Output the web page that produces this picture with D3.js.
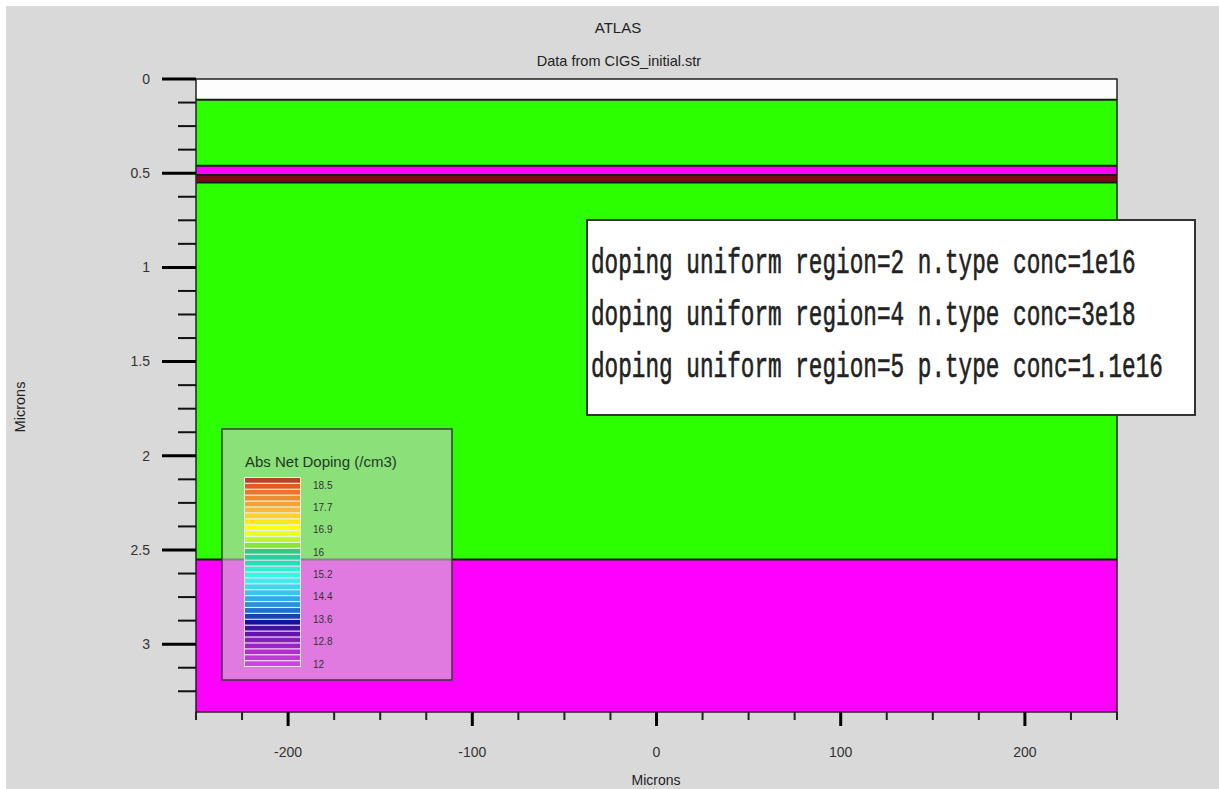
<!DOCTYPE html>
<html>
<head>
<meta charset="utf-8">
<script src="https://cdn.jsdelivr.net/npm/d3@7"></script>
<style>
  body { margin: 0; background: #ffffff; }
  text { font-family: "Liberation Sans", Arial, sans-serif; }
</style>
</head>
<body>
<div id="chart"></div>
<script>
// device layers, depth in microns (top / bottom of each region)
var layerTops    = [0, 0.11, 0.46, 0.51, 0.55, 2.55];
var layerBottoms = [0.11, 0.46, 0.51, 0.55, 2.55, 3.36];
var layerColors  = ["#fdfdfd", "#2cff00", "#ff00ff", "#7a0a18", "#2cff00", "#ff00ff"];

// axes
var xMajor = [-200, -100, 0, 100, 200];
var yMajor = [0, 0.5, 1, 1.5, 2, 2.5, 3];

// legend (log10 of abs net doping)
var legendLabels = [18.5, 17.7, 16.9, 16, 15.2, 14.4, 13.6, 12.8, 12];
var legendColors = ["#b8402a", "#e25a22", "#ee7428", "#f08c30", "#f4a238", "#f8b840",
                    "#fcd030", "#ffe818", "#ffff10", "#e8ff28", "#c0f430", "#88e438",
                    "#30c888", "#28d0a0", "#28dcb8", "#30ecd0", "#38f4e0", "#40ecf0",
                    "#40d8f0", "#38c4ec", "#30ace4", "#2892d8", "#2072c8", "#1446b0",
                    "#10149c", "#3c10a0", "#6414ac", "#8420b8", "#9c24c4", "#b030cc",
                    "#c038d8", "#cc44e4"];

// the pasted deck lines
var dopingLines = ["doping uniform region=2 n.type conc=1e16",
                   "doping uniform region=4 n.type conc=3e18",
                   "doping uniform region=5 p.type conc=1.1e16"];

var W = 1219, H = 789;

var svg = d3.select("#chart")
  .append("svg")
    .attr("width", W)
    .attr("height", H);

// grey window background
svg.append("rect")
    .attr("x", 6).attr("y", 6)
    .attr("width", W - 6).attr("height", H - 6)
    .style("fill", "#d9d9d9");

var x = d3.scaleLinear()
    .domain([-250, 250])
    .range([196, 1117]);

var y = d3.scaleLinear()
    .domain([0, 3.36])
    .range([79, 712]);

// regions
svg.selectAll("layers")
    .data(layerTops)
    .enter()
    .append("rect")
      .attr("x", x(-250))
      .attr("width", x(250) - x(-250))
      .attr("y", function(d){ return y(d) })
      .attr("height", function(d, i){ return y(layerBottoms[i]) - y(d) })
      .style("fill", function(d, i){ return layerColors[i] });

// region boundaries
svg.selectAll("bounds")
    .data(layerTops.slice(1))
    .enter()
    .append("line")
      .attr("x1", x(-250))
      .attr("x2", x(250))
      .attr("y1", function(d){ return y(d) })
      .attr("y2", function(d){ return y(d) })
      .attr("stroke", "#1a1a1a")
      .attr("stroke-width", 2);

// plot frame
svg.append("rect")
    .attr("x", x(-250))
    .attr("y", y(0))
    .attr("width", x(250) - x(-250))
    .attr("height", y(3.36) - y(0))
    .style("fill", "none")
    .attr("stroke", "#222")
    .attr("stroke-width", 1.5);

// y axis: long major ticks, short minor ticks every 0.125
var yMinor = d3.range(0, 3.36, 0.125).filter(function(v){ return yMajor.indexOf(v) < 0 });
svg.selectAll("yminor")
    .data(yMinor)
    .enter()
    .append("line")
      .attr("x1", 178).attr("x2", x(-250))
      .attr("y1", function(d){ return y(d) })
      .attr("y2", function(d){ return y(d) })
      .attr("stroke", "#111")
      .attr("stroke-width", 2);
svg.selectAll("ymajor")
    .data(yMajor)
    .enter()
    .append("line")
      .attr("x1", 162).attr("x2", x(-250))
      .attr("y1", function(d){ return y(d) })
      .attr("y2", function(d){ return y(d) })
      .attr("stroke", "#000")
      .attr("stroke-width", 3);
svg.selectAll("ylabels")
    .data(yMajor)
    .enter()
    .append("text")
      .attr("x", 150)
      .attr("y", function(d){ return y(d) })
      .attr("dy", "0.35em")
      .attr("text-anchor", "end")
      .style("font-size", 14)
      .style("fill", "#333")
      .text(function(d){ return d });

// x axis: major every 100, minor every 25
var xMinor = d3.range(-250, 251, 25).filter(function(v){ return xMajor.indexOf(v) < 0 });
svg.selectAll("xminor")
    .data(xMinor)
    .enter()
    .append("line")
      .attr("x1", function(d){ return x(d) })
      .attr("x2", function(d){ return x(d) })
      .attr("y1", y(3.36)).attr("y2", 720)
      .attr("stroke", "#222")
      .attr("stroke-width", 2);
svg.selectAll("xmajor")
    .data(xMajor)
    .enter()
    .append("line")
      .attr("x1", function(d){ return x(d) })
      .attr("x2", function(d){ return x(d) })
      .attr("y1", y(3.36)).attr("y2", 726)
      .attr("stroke", "#000")
      .attr("stroke-width", 3);
svg.selectAll("xlabels")
    .data(xMajor)
    .enter()
    .append("text")
      .attr("x", function(d){ return x(d) })
      .attr("y", 757)
      .attr("text-anchor", "middle")
      .style("font-size", 14)
      .style("fill", "#333")
      .text(function(d){ return d });

// titles
svg.append("text")
    .attr("x", 618).attr("y", 33)
    .attr("text-anchor", "middle")
    .style("font-size", 15)
    .style("fill", "#222")
    .text("ATLAS");
svg.append("text")
    .attr("x", 619).attr("y", 66)
    .attr("text-anchor", "middle")
    .style("font-size", 14.5)
    .style("fill", "#222")
    .text("Data from CIGS_initial.str");

// axis labels
svg.append("text")
    .attr("x", 656).attr("y", 785)
    .attr("text-anchor", "middle")
    .style("font-size", 14)
    .style("fill", "#222")
    .text("Microns");
svg.append("text")
    .attr("transform", "translate(25,407) rotate(-90)")
    .attr("text-anchor", "middle")
    .style("font-size", 14.5)
    .style("fill", "#222")
    .text("Microns");

// legend box
svg.append("rect")
    .attr("x", 222).attr("y", 429)
    .attr("width", 230).attr("height", 251)
    .style("fill", "#cccccc")
    .style("fill-opacity", 0.6)
    .attr("stroke", "#3a3a3a")
    .attr("stroke-width", 1.5);
svg.append("text")
    .attr("x", 245).attr("y", 467)
    .style("font-size", 15)
    .style("fill", "#1e3a1e")
    .text("Abs Net Doping (/cm3)");

var band = d3.scaleBand()
    .domain(d3.range(legendColors.length))
    .range([478, 666])
    .paddingInner(0.2);

// pale backing behind the colour bar
svg.append("rect")
    .attr("x", 244).attr("y", 477)
    .attr("width", 57).attr("height", 190)
    .style("fill", "#ffffff")
    .style("fill-opacity", 0.75);
svg.selectAll("stripes")
    .data(legendColors)
    .enter()
    .append("rect")
      .attr("x", 245)
      .attr("width", 55)
      .attr("y", function(d, i){ return band(i) })
      .attr("height", band.bandwidth())
      .style("fill", function(d){ return d });

var ly = d3.scalePoint()
    .domain(legendLabels)
    .range([485, 664]);
svg.selectAll("legLabels")
    .data(legendLabels)
    .enter()
    .append("text")
      .attr("x", 313)
      .attr("y", function(d){ return ly(d) })
      .attr("dy", "0.35em")
      .style("font-size", 10)
      .style("fill", "#333")
      .text(function(d){ return d });

// pasted text box with the doping statements
svg.append("rect")
    .attr("x", 587).attr("y", 220)
    .attr("width", 608).attr("height", 195)
    .style("fill", "#fff")
    .attr("stroke", "#333")
    .attr("stroke-width", 2);
svg.selectAll("deck")
    .data(dopingLines)
    .enter()
    .append("text")
      .attr("transform", function(d, i){ return "translate(591," + (273 + i * 52) + ") scale(1,1.55)" })
      .style("font-family", "'Liberation Mono', 'Courier New', monospace")
      .style("font-size", 22.7)
      .style("fill", "#222")
      .attr("stroke", "#222")
      .attr("stroke-width", 0.4)
      .text(function(d){ return d });
</script>
</body>
</html>
